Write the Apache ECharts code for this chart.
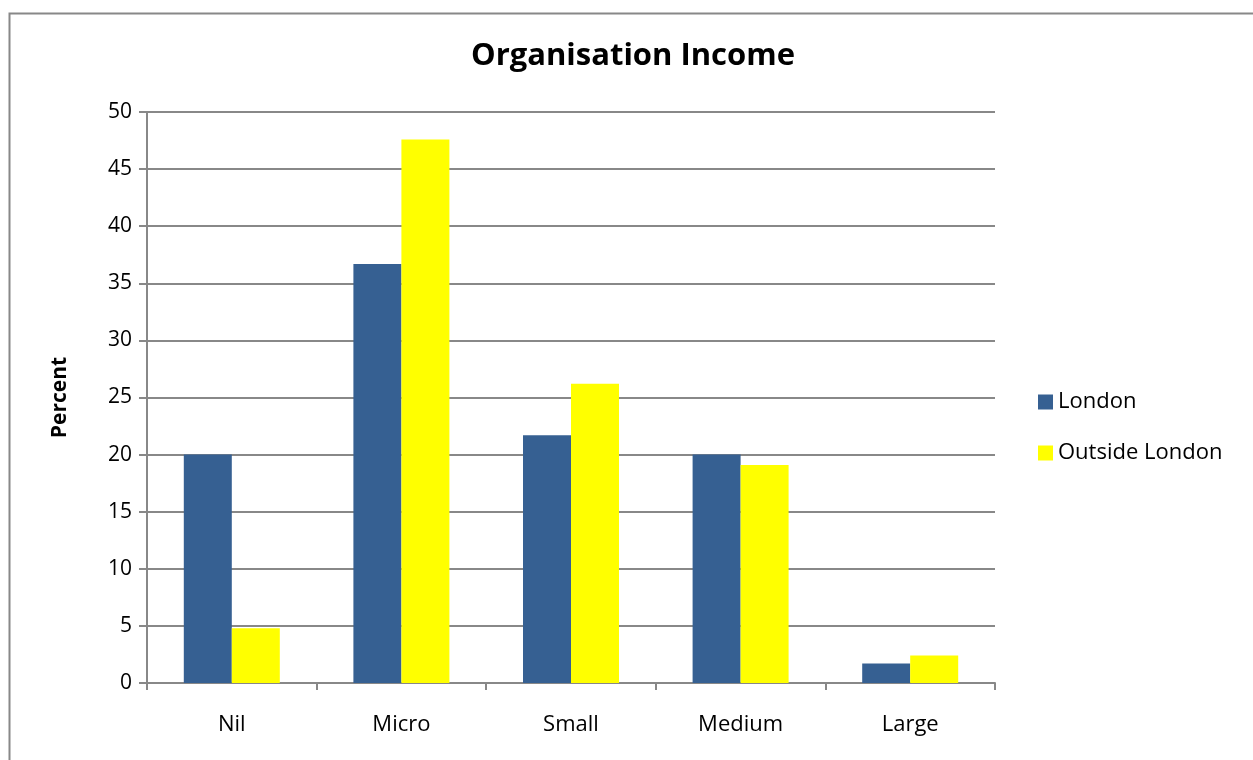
<!DOCTYPE html>
<html>
<head>
<meta charset="utf-8">
<script src="https://cdn.jsdelivr.net/npm/echarts@6/dist/echarts.min.js"></script>
<style>
html,body{margin:0;padding:0;background:#fff;}
#main{width:1253px;height:760px;}
</style>
</head>
<body>
<div id="main"></div>
<script>
var categories = ['Nil', 'Micro', 'Small', 'Medium', 'Large'];
var london = [20, 36.7, 21.7, 20, 1.7];
var outside = [4.8, 47.6, 26.2, 19.1, 2.4];
var yTicks = { min: 0, max: 50, interval: 5 };

var font = '"Open Sans", "Noto Sans", sans-serif';
var chart = echarts.init(document.getElementById('main'));
chart.setOption({
    animation: false,
    textStyle: { fontFamily: font },
    title: {
        text: 'Organisation Income',
        left: 633, top: 41, textAlign: 'center',
        padding: 0,
        textStyle: { fontSize: 31, fontWeight: 'bold', color: '#000', fontFamily: font }
    },
    graphic: [{
        type: 'rect',
        shape: { x: 9.5, y: 13.5, width: 1300, height: 800 },
        style: { fill: 'none', stroke: '#888', lineWidth: 2 },
        silent: true
    }],
    legend: {
        orient: 'vertical',
        left: 1038, top: 391,
        padding: 0,
        itemWidth: 15, itemHeight: 15, itemGap: 29,
        icon: 'rect',
        textStyle: { fontSize: 22, color: '#000', fontFamily: font },
        data: ['London', 'Outside London']
    },
    grid: { left: 147, right: 258, top: 112, bottom: 77 },
    xAxis: {
        type: 'category',
        data: categories,
        axisLine: { lineStyle: { color: '#888', width: 2 } },
        axisTick: { show: true, length: 7, lineStyle: { color: '#888', width: 2 } },
        axisLabel: { fontSize: 22, color: '#000', margin: 31, fontFamily: font }
    },
    yAxis: {
        type: 'value',
        min: yTicks.min, max: yTicks.max, interval: yTicks.interval,
        name: 'Percent',
        nameLocation: 'middle',
        nameGap: 76,
        nameTextStyle: { fontSize: 21, fontWeight: 'bold', color: '#000', fontFamily: font },
        axisLine: { show: true, lineStyle: { color: '#888', width: 2 } },
        axisTick: { show: true, length: 8, lineStyle: { color: '#888', width: 2 } },
        axisLabel: { fontSize: 21, color: '#000', margin: 15, fontFamily: font },
        splitLine: { lineStyle: { color: '#888', width: 2 } }
    },
    series: [
        {
            name: 'London', type: 'bar', data: london,
            barWidth: 48, barGap: '0%',
            itemStyle: { color: '#366092' }
        },
        {
            name: 'Outside London', type: 'bar', data: outside,
            barWidth: 48, barGap: '0%',
            itemStyle: { color: '#ffff00' }
        }
    ]
});
</script>
</body>
</html>
